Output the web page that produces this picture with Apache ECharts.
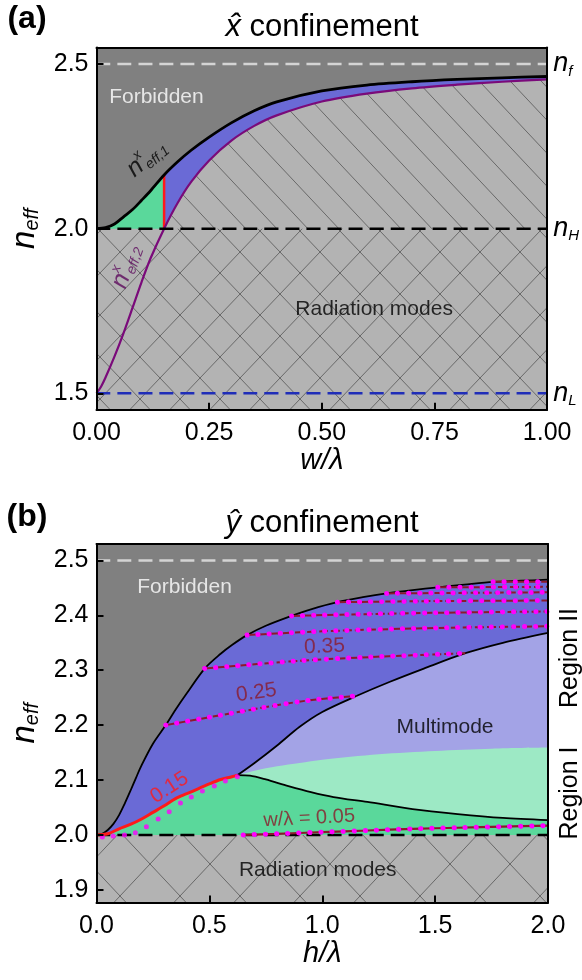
<!DOCTYPE html>
<html lang="en">
<head>
<meta charset="UTF-8">
<script src="https://cdn.jsdelivr.net/npm/echarts@6/dist/echarts.min.js"></script>
<title>x / y confinement</title>
<style>body{margin:0;background:#fff} #main{width:582px;height:980px}</style>
</head>
<body>
<div id="main"></div>
<script>
// ---- panel (a): x confinement, n_eff vs w/lambda ----
var xa1 = [0, 0.02, 0.04, 0.06, 0.08, 0.10, 0.12, 0.15, 0.18, 0.21, 0.25, 0.30, 0.35, 0.40, 0.50, 0.60, 0.70, 0.80, 0.90, 1.00];
var neffA1 = [2.0, 2.003, 2.014, 2.036, 2.058, 2.086, 2.115, 2.163, 2.203, 2.238, 2.278, 2.322, 2.358, 2.385, 2.418, 2.436, 2.446, 2.453, 2.458, 2.462];
var xa2 = [0, 0.01, 0.02, 0.04, 0.06, 0.08, 0.10, 0.12, 0.15, 0.18, 0.21, 0.25, 0.30, 0.35, 0.40, 0.50, 0.60, 0.70, 0.80, 0.90, 1.00];
var neffA2 = [1.5, 1.52, 1.548, 1.612, 1.683, 1.76, 1.838, 1.91, 2.0, 2.078, 2.142, 2.207, 2.268, 2.312, 2.344, 2.386, 2.41, 2.426, 2.437, 2.446, 2.453];
var wCut = 0.15;
var xTicksA = [0, 0.25, 0.5, 0.75, 1.0];
var yTicksA = [1.5, 2.0, 2.5];
var nLevels = { 1.5: 'L', 2.0: 'H', 2.5: 'f' };

// ---- panel (b): y confinement, n_eff vs h/lambda ----
var hU = [0, 0.025, 0.05, 0.075, 0.1, 0.125, 0.15, 0.175, 0.2, 0.25, 0.307, 0.35, 0.4, 0.479, 0.55, 0.6, 0.667, 0.75, 0.864, 0.95, 1.067, 1.18, 1.285, 1.4, 1.512, 1.63, 1.757, 1.88, 2.0];
var nU = [2.0, 2.002, 2.009, 2.02, 2.036, 2.057, 2.08, 2.104, 2.127, 2.166, 2.2, 2.228, 2.258, 2.303, 2.33, 2.346, 2.364, 2.381, 2.399, 2.411, 2.424, 2.433, 2.44, 2.446, 2.451, 2.456, 2.461, 2.463, 2.465];
var hR = [0, 0.05, 0.1, 0.15, 0.2, 0.25, 0.3, 0.35, 0.4, 0.45, 0.5, 0.55, 0.6, 0.625];
var nR = [2.0, 2.002, 2.011, 2.019, 2.029, 2.041, 2.053, 2.066, 2.075, 2.084, 2.093, 2.101, 2.106, 2.109];
var hDot = [0.026, 0.074, 0.124, 0.172, 0.221, 0.273, 0.322, 0.372, 0.42, 0.469, 0.522, 0.571, 0.624];
var nDot = [1.996, 1.998, 2.0, 2.004, 2.015, 2.029, 2.042, 2.058, 2.069, 2.08, 2.089, 2.098, 2.106];
var hM = [0.625, 0.7, 0.8, 0.9, 1.0, 1.151, 1.3, 1.45, 1.634, 1.8, 2.0];
var nM = [2.109, 2.131, 2.163, 2.197, 2.224, 2.253, 2.279, 2.303, 2.331, 2.35, 2.368];
var hG = [0.625, 0.7, 0.8, 0.9, 1.0, 1.25, 1.5, 1.75, 2.0];
var nG = [2.109, 2.117, 2.125, 2.131, 2.137, 2.147, 2.153, 2.157, 2.159];
var hL = [0.625, 0.68, 0.75, 0.85, 0.95, 1.05, 1.2, 1.4, 1.6, 1.8, 2.0];
var nL = [2.109, 2.108, 2.101, 2.089, 2.078, 2.069, 2.06, 2.047, 2.038, 2.031, 2.027];
var hW05 = [0.65, 0.8, 1.0, 1.2, 1.4, 1.6, 1.8, 2.0];
var nW05 = [2.0, 2.002, 2.005, 2.008, 2.011, 2.013, 2.015, 2.017];
// w/lambda = 0.25 ... 0.95 contours
var wLines = [
  { h: [0.307, 0.495, 0.725, 0.938, 1.151], n: [2.2, 2.214, 2.231, 2.245, 2.253] },
  { h: [0.479, 0.889, 1.216, 1.634], n: [2.303, 2.317, 2.324, 2.331] },
  { h: [0.667, 1.0, 1.5, 2.0], n: [2.364, 2.371, 2.377, 2.38] },
  { h: [0.864, 1.4, 2.0], n: [2.399, 2.404, 2.407] },
  { h: [1.067, 1.5, 2.0], n: [2.424, 2.426, 2.427] },
  { h: [1.285, 2.0], n: [2.44, 2.442] },
  { h: [1.512, 2.0], n: [2.451, 2.452] },
  { h: [1.757, 2.0], n: [2.461, 2.461] }
];
var xTicksB = [0, 0.5, 1.0, 1.5, 2.0];
var yTicksB = [1.9, 2.0, 2.1, 2.2, 2.3, 2.4, 2.5];

var font = 'Liberation Sans';
var darkRed = '#8b1a2b';

function P(xs, ys) { return xs.map(function (x, i) { return [x, ys[i]]; }); }

// hatch tile drawn on a small canvas, used as a repeating pattern
function hatch(w, h, cross) {
  var c = document.createElement('canvas');
  c.width = w; c.height = h;
  var g = c.getContext('2d');
  g.fillStyle = '#b3b3b3';
  g.fillRect(0, 0, w, h);
  g.strokeStyle = '#555';
  g.lineWidth = 0.8;
  for (var dx = -w; dx <= w; dx += w) {
    for (var dy = -h; dy <= h; dy += h) {
      g.beginPath();
      g.moveTo(dx, dy); g.lineTo(dx + w, dy + h);
      if (cross) { g.moveTo(dx + w, dy); g.lineTo(dx, dy + h); }
      g.stroke();
    }
  }
  return { image: c, repeat: 'repeat' };
}

function fill(data, color, k) {
  return { type: 'line', xAxisIndex: k, yAxisIndex: k, data: data, symbol: 'none', smooth: 0.3,
    lineStyle: { width: 0 }, areaStyle: { color: color, opacity: 1, origin: 'start' }, silent: true };
}
function curve(data, color, width, k, dash) {
  return { type: 'line', xAxisIndex: k, yAxisIndex: k, data: data, symbol: 'none', smooth: 0.3,
    lineStyle: { color: color, width: width, type: dash || 'solid' }, silent: true };
}
function dots(data, k) {
  return { type: 'line', xAxisIndex: k, yAxisIndex: k, data: data, symbol: 'none', smooth: 0.3,
    lineStyle: { color: '#ff00ff', width: 5, type: [0.1, 11], cap: 'round' }, silent: true };
}
var richN = {
  n: { fontSize: 25, fontStyle: 'italic', fontFamily: font, verticalAlign: 'middle' },
  sup: { fontSize: 14, fontStyle: 'italic', fontFamily: font, verticalAlign: 'middle', align: 'left', padding: [0, 0, 17, 2], width: 1 },
  sub: { fontSize: 14, fontStyle: 'italic', fontFamily: font, verticalAlign: 'middle', padding: [13, 0, 0, 0] }
};
function note(k, x, y, str, color, size, rot) {
  var rich = {};
  Object.keys(richN).forEach(function (key) { rich[key] = Object.assign({ color: color }, richN[key]); });
  return { type: 'scatter', xAxisIndex: k, yAxisIndex: k, data: [[x, y]], symbolSize: 1,
    itemStyle: { color: 'rgba(0,0,0,0)' }, silent: true, z: 8,
    label: { show: true, position: 'inside', formatter: str, color: color, fontSize: size, fontFamily: font, rotate: rot || 0, rich: rich } };
}
function hline(y, x0, x1, color, k, dash) {
  return curve([[x0, y], [x1, y]], color, 2.5, k, dash);
}

var hatchSingle = hatch(31, 33, false);
var hatchCrossA = hatch(40, 42, true);
var hatchCrossB = hatch(60, 64, true);

function bottomAxis(grid, max, interval, ticks, digits, name) {
  return { type: 'value', gridIndex: grid, min: 0, max: max, interval: interval, z: 10,
    axisLine: { onZero: false, lineStyle: { color: '#000', width: 2 } },
    axisTick: { inside: true, length: 7, lineStyle: { color: '#000', width: 2 }, customValues: ticks.slice(1, -1) },
    axisLabel: { margin: 11, color: '#000', fontSize: 25, fontFamily: font, formatter: function (v) { return v.toFixed(digits); } },
    splitLine: { show: false },
    name: name, nameLocation: 'middle', nameGap: 37,
    nameTextStyle: { fontSize: 29, fontStyle: 'italic', fontFamily: font, color: '#000', verticalAlign: 'top' } };
}
function topAxis(grid, max) {
  return { type: 'value', gridIndex: grid, position: 'top', min: 0, max: max, z: 10,
    axisLine: { onZero: false, lineStyle: { color: '#000', width: 2 } },
    axisTick: { show: false }, axisLabel: { show: false }, splitLine: { show: false } };
}
function leftAxis(grid, min, max, ticks) {
  return { type: 'value', gridIndex: grid, min: min, max: max, z: 10,
    axisLine: { onZero: false, lineStyle: { color: '#000', width: 2 } },
    axisTick: { inside: true, length: 7, lineStyle: { color: '#000', width: 2 }, customValues: ticks },
    axisLabel: { margin: 8, color: '#000', fontSize: 25, fontFamily: font, customValues: ticks,
      formatter: function (v) { return v.toFixed(1); } },
    splitLine: { show: false },
    name: '{n|n}{s|eff}', nameLocation: 'middle', nameRotate: 90, nameGap: 54,
    nameTextStyle: { color: '#000', rich: {
      n: { fontSize: 33, fontStyle: 'italic', fontFamily: font, color: '#000', verticalAlign: 'middle' },
      s: { fontSize: 20, fontStyle: 'italic', fontFamily: font, color: '#000', verticalAlign: 'middle', padding: [16, 0, 0, 0] } } } };
}
function rightAxis(grid, min, max, labels) {
  var ax = { type: 'value', gridIndex: grid, position: 'right', min: min, max: max, z: 10,
    axisLine: { onZero: false, lineStyle: { color: '#000', width: 2 } },
    axisTick: { show: false }, splitLine: { show: false }, axisLabel: { show: false } };
  if (labels) {
    ax.axisLabel = { show: true, margin: 6, customValues: yTicksA,
      formatter: function (v) { return '{n|n}{s|' + labels[v.toFixed(1)] + '}'; },
      rich: {
        n: { fontSize: 27, fontStyle: 'italic', fontFamily: font, color: '#000', verticalAlign: 'middle' },
        s: { fontSize: 15, fontStyle: 'italic', fontFamily: font, color: '#000', verticalAlign: 'middle', padding: [15, 0, 0, 0] } } };
  }
  return ax;
}
var levelMap = {}; Object.keys(nLevels).forEach(function (k) { levelMap[Number(k).toFixed(1)] = nLevels[k]; });

var curveA1 = P(xa1, neffA1);
var curveA2 = P(xa2, neffA2);
var n1AtCut = neffA1[xa1.indexOf(wCut)];

var series = [
  // (a) fills
  fill(curveA1, '#6a6ad6', 0),
  fill(curveA1.filter(function (p) { return p[0] <= wCut; }), '#5ad89b', 0),
  fill(curveA2, hatchSingle, 0),
  fill([[0, 2.0], [1, 2.0]], hatchCrossA, 0),
  // (a) lines
  curve([[wCut, 2.0], [wCut, n1AtCut]], '#ff1a1a', 2.5, 0),
  curve(curveA2, '#7a0a7a', 2.2, 0),
  curve(curveA1, '#000', 2.8, 0),
  hline(2.5, 0, 1, '#d4d4d4', 0, [14, 7]),
  hline(2.0, 0, 1, '#000', 0, [14, 7]),
  hline(1.5, 0, 1, '#1f2db8', 0, [14, 7]),
  note(0, 0.133, 2.40, 'Forbidden', '#fff', 21),
  note(0, 0.616, 1.755, 'Radiation modes', '#000', 21),
  note(0, 0.112, 2.214, '{n|n}{sup|x}{sub|eff,1}', '#000', 25, 40),
  note(0, 0.066, 1.885, '{n|n}{sup|x}{sub|eff,2}', '#5c0a5c', 25, 70),

  // (b) fills
  fill(P(hU, nU), '#6a6ad6', 2),
  fill(P(hM, nM), '#a3a3e6', 2),
  fill(P(hG, nG), '#9de9c5', 2),
  fill(P(hR, nR).concat(P(hL, nL).slice(1)), '#5ad89b', 2),
  fill([[0, 2.0], [2, 2.0]], hatchCrossB, 2),
  // (b) lines
  curve(P(hU, nU), '#000', 1.8, 2),
  curve(P(hM, nM), '#000', 1.8, 2),
  curve(P(hL, nL), '#000', 1.8, 2),
  hline(2.5, 0, 2, '#d4d4d4', 2, [14, 7]),
  hline(2.0, 0, 2, '#000', 2, [14, 7]),
  curve(P(hW05, nW05), darkRed, 2.2, 2),
  dots(P(hW05, nW05), 2)
];
wLines.forEach(function (l) {
  series.push(curve(P(l.h, l.n), darkRed, 2, 2, [9, 3]));
  series.push(dots(P(l.h, l.n), 2));
});
series.push(curve(P(hR, nR), '#ff1a1a', 3, 2));
series.push({ type: 'scatter', xAxisIndex: 2, yAxisIndex: 2, data: P(hDot, nDot), symbolSize: 5,
  itemStyle: { color: '#ff00ff' }, silent: true, z: 6 });
series.push(note(2, 0.39, 2.452, 'Forbidden', '#fff', 21));
series.push(note(2, 0.98, 1.936, 'Radiation modes', '#000', 21));
series.push(note(2, 1.544, 2.196, 'Multimode', '#000', 21));
series.push(note(2, 1.01, 2.343, '0.35', darkRed, 21, 2));
series.push(note(2, 0.708, 2.259, '0.25', darkRed, 21, 8));
series.push(note(2, 0.323, 2.086, '0.15', '#ff1a1a', 21, 33));
series.push(note(2, 0.942, 2.03, 'w/λ = 0.05', darkRed, 20, 3));

var chart = echarts.init(document.getElementById('main'), null, { renderer: 'canvas' });
chart.setOption({
  animation: false,
  textStyle: { fontFamily: font },
  grid: [
    { left: 96, right: 33, top: 47.5, height: 362.3, show: true, backgroundColor: '#808080', borderWidth: 0 },
    { left: 96, right: 34, top: 544, height: 358.4, show: true, backgroundColor: '#808080', borderWidth: 0 }
  ],
  xAxis: [
    bottomAxis(0, 1, 0.25, xTicksA, 2, 'w/λ'),
    topAxis(0, 1),
    bottomAxis(1, 2, 0.5, xTicksB, 1, 'h/λ'),
    topAxis(1, 2)
  ],
  yAxis: [
    leftAxis(0, 1.45, 2.55, yTicksA),
    rightAxis(0, 1.45, 2.55, levelMap),
    leftAxis(1, 1.877, 2.53, yTicksB),
    rightAxis(1, 1.877, 2.53, null)
  ],
  graphic: [
    { type: 'text', x: 27, y: 19, style: { text: '(a)', font: 'bold 32px ' + font, fill: '#000', align: 'center', verticalAlign: 'middle' } },
    { type: 'text', x: 27, y: 517, style: { text: '(b)', font: 'bold 32px ' + font, fill: '#000', align: 'center', verticalAlign: 'middle' } },
    { type: 'text', x: 322, y: 27, style: { text: '{i|x̂} confinement', font: '31px ' + font, fill: '#000', align: 'center', verticalAlign: 'middle',
      rich: { i: { fontStyle: 'italic', fontSize: 31, fontFamily: font } } } },
    { type: 'text', x: 322, y: 523, style: { text: '{i|ŷ} confinement', font: '31px ' + font, fill: '#000', align: 'center', verticalAlign: 'middle',
      rich: { i: { fontStyle: 'italic', fontSize: 31, fontFamily: font } } } },
    { type: 'text', x: 570, y: 658, rotation: Math.PI / 2, style: { text: 'Region II', font: '25px ' + font, fill: '#000', align: 'center', verticalAlign: 'middle' } },
    { type: 'text', x: 570, y: 793, rotation: Math.PI / 2, style: { text: 'Region I', font: '25px ' + font, fill: '#000', align: 'center', verticalAlign: 'middle' } }
  ],
  series: series
});
</script>
</body>
</html>
